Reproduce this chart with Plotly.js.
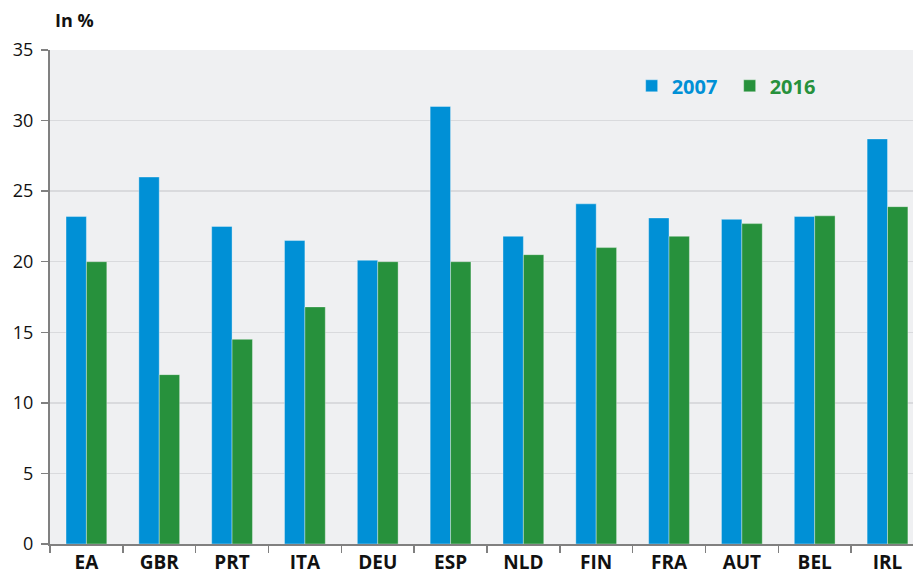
<!DOCTYPE html>
<html>
<head>
<meta charset="utf-8">
<script src="https://cdn.plot.ly/plotly-3.0.1.min.js"></script>
<style>html,body{margin:0;padding:0;background:#fff;}#chart{width:913px;height:574px;}</style>
</head>
<body>
<div id="chart"></div>
<script>
const categories = ["EA","GBR","PRT","ITA","DEU","ESP","NLD","FIN","FRA","AUT","BEL","IRL"];
const values2007 = [23.2, 26.0, 22.5, 21.5, 20.1, 31.0, 21.8, 24.1, 23.1, 23.0, 23.2, 28.7];
const values2016 = [20.0, 12.0, 14.5, 16.8, 20.0, 20.0, 20.5, 21.0, 21.8, 22.7, 23.25, 23.9];
const seriesNames = ["2007", "2016"];
const yTicks = [0, 5, 10, 15, 20, 25, 30, 35];

const blue = "#0090d6";
const green = "#27913c";
const font = "Open Sans, Noto Sans, sans-serif";

const traces = [
  {type: "bar", x: categories, y: values2007,
   name: '<span style="color:' + blue + '"><b>' + seriesNames[0] + '</b></span>',
   marker: {color: blue, line: {color: "rgba(255,255,255,0.35)", width: 1}}},
  {type: "bar", x: categories, y: values2016,
   name: '<span style="color:' + green + '"><b>' + seriesNames[1] + '</b></span>',
   marker: {color: green, line: {color: "rgba(255,255,255,0.35)", width: 1}}}
];

const layout = {
  width: 913, height: 574,
  margin: {l: 50, r: 0, t: 50, b: 30},
  paper_bgcolor: "#ffffff",
  plot_bgcolor: "#eff0f2",
  barmode: "group",
  bargap: 0.44,
  bargroupgap: 0,
  showlegend: true,
  legend: {orientation: "h", x: 0.674, y: 0.967, xanchor: "left", yanchor: "top",
           bgcolor: "rgba(0,0,0,0)", font: {family: font, size: 20},
           itemwidth: 30, traceorder: "normal", entrywidth: 53},
  font: {family: font, color: "#111111"},
  xaxis: {
    type: "category", range: [-0.5, 11.35],
    tickson: "boundaries", ticks: "outside", ticklen: 7, tickwidth: 1.5, tickcolor: "#808080",
    showline: true, linecolor: "#808080", linewidth: 2,
    showgrid: false, fixedrange: true, ticklabelstandoff: 0,
    tickfont: {family: font, size: 19, color: "#111111", weight: "bold"}
  },
  yaxis: {
    range: [0, 35], tickvals: yTicks, ticktext: yTicks.map(String),
    ticks: "outside", ticklen: 7, tickwidth: 1.5, tickcolor: "#808080",
    showline: true, linecolor: "#808080", linewidth: 2,
    showgrid: true, gridcolor: "#d9dadd", gridwidth: 1.5,
    zeroline: false, fixedrange: true, ticklabelstandoff: 4,
    tickfont: {family: font, size: 18, color: "#111111"}
  },
  annotations: [
    {text: "<b>In %</b>", xref: "paper", yref: "paper", x: 0.0035, y: 1.0607,
     xanchor: "left", yanchor: "middle", showarrow: false,
     font: {family: font, size: 18, color: "#111111"}}
  ]
};

Plotly.newPlot("chart", traces, layout, {displayModeBar: false, staticPlot: true});
</script>
</body>
</html>
